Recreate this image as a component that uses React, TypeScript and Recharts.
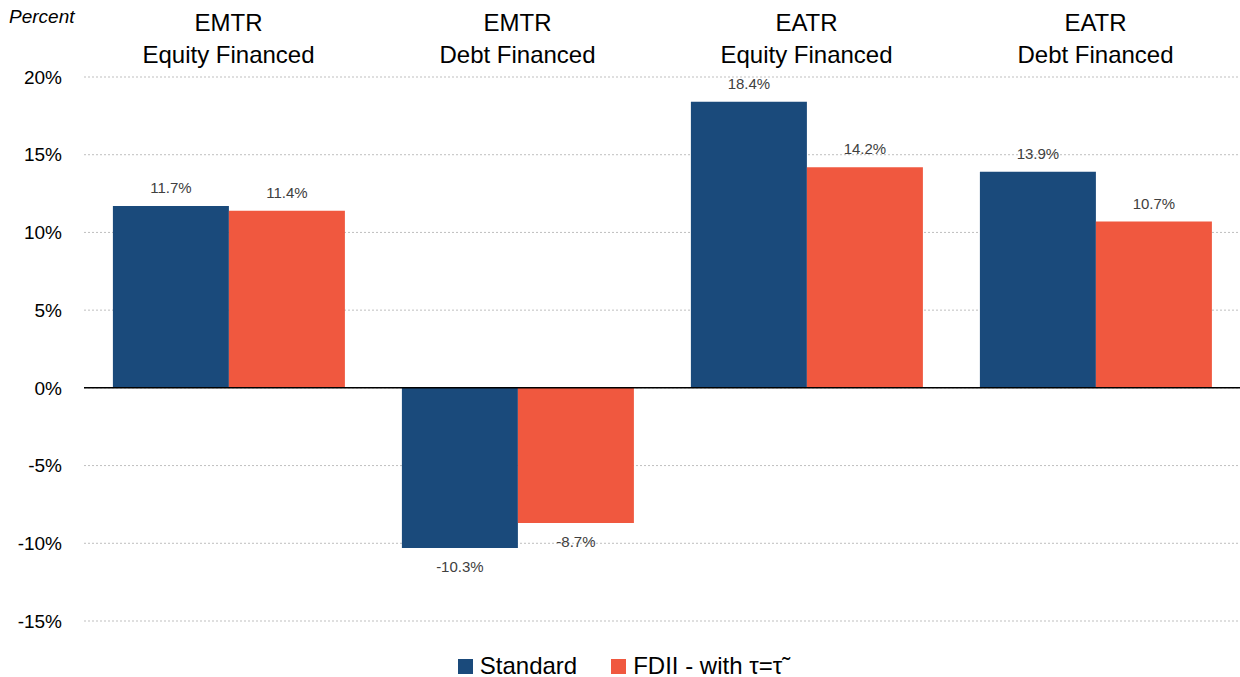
import {
  BarChart,
  Bar,
  XAxis,
  YAxis,
  CartesianGrid,
  ReferenceLine,
  Legend,
  LabelList,
} from 'recharts'

const categories = ['EMTR\nEquity Financed', 'EMTR\nDebt Financed', 'EATR\nEquity Financed', 'EATR\nDebt Financed']
const standard = [11.7, -10.3, 18.4, 13.9]
const fdii = [11.4, -8.7, 14.2, 10.7]
const yTicks = [-15, -10, -5, 0, 5, 10, 15, 20]

const BLUE = '#1A4A7B'
const ORANGE = '#F0583F'
const FONT = 'Arial, "Liberation Sans", sans-serif'

const data = categories.map((name, i) => ({
  name,
  standard: standard[i],
  fdii: fdii[i],
}))

// two-line category header drawn above the plot
// eslint-disable-next-line @typescript-eslint/no-explicit-any
function CategoryTick(props: any) {
  const { x, payload } = props
  const lines = String(payload?.value ?? '').split('\n')
  return (
    <text x={x} y={0} textAnchor="middle" fill="#000" fontSize={24} fontFamily={FONT}>
      {lines.map((line, i) => (
        <tspan key={i} x={x} y={31 + i * 32}>
          {line}
        </tspan>
      ))}
    </text>
  )
}

// eslint-disable-next-line @typescript-eslint/no-explicit-any
function ValueLabel(props: any) {
  const { x, y, width, height, value } = props
  const neg = value < 0
  const bottom = y + height
  const ty = neg ? Math.max(y, bottom) + 24 : Math.min(y, bottom) - 13
  return (
    <text x={x + width / 2} y={ty} textAnchor="middle" fill="#404040" fontSize={15} fontFamily={FONT}>
      {`${value.toFixed(1)}%`}
    </text>
  )
}

function LegendContent() {
  const items = [
    { label: 'Standard', color: BLUE },
    { label: 'FDII - with \u03C4=\u03C4\u0303', color: ORANGE },
  ]
  return (
    <div
      style={{
        display: 'flex',
        justifyContent: 'center',
        gap: 34,
        paddingTop: 31,
        fontFamily: FONT,
        fontSize: 24,
        color: '#000',
      }}
    >
      {items.map((it) => (
        <div key={it.label} style={{ display: 'flex', alignItems: 'center' }}>
          <span style={{ width: 15, height: 15, background: it.color, display: 'inline-block', marginRight: 7 }} />
          <span>{it.label}</span>
        </div>
      ))}
    </div>
  )
}

export default function App() {
  return (
    <div style={{ position: 'relative', width: 1240, height: 677, background: '#fff' }}>
      <style>{'body{margin:0}'}</style>
      <div
        style={{
          position: 'absolute',
          left: 9,
          top: 6,
          fontFamily: FONT,
          fontStyle: 'italic',
          fontSize: 19,
          color: '#000',
        }}
      >
        Percent
      </div>
      <BarChart
        width={1240}
        height={677}
        data={data}
        margin={{ top: 7, right: 0, left: 0, bottom: 0 }}
        barCategoryGap="10%"
        barGap={0}
      >
        <CartesianGrid vertical={false} stroke="#bfbfbf" strokeDasharray="2 2" />
        <XAxis
          dataKey="name"
          orientation="top"
          height={70}
          axisLine={false}
          tickLine={false}
          tick={CategoryTick}
          interval={0}
        />
        <YAxis
          type="number"
          domain={[-15, 20]}
          ticks={yTicks}
          width={84}
          axisLine={false}
          tickLine={false}
          tickMargin={16}
          tickFormatter={(v) => `${v}%`}
          tick={{ fill: '#000', fontSize: 19, fontFamily: FONT }}
        />
        <ReferenceLine y={0} stroke="#000" strokeWidth={1.5} />
        <Legend
          verticalAlign="bottom"
          height={56}
          content={<LegendContent />}
        />
        <Bar dataKey="standard" name="Standard" fill={BLUE} isAnimationActive={false}>
          <LabelList dataKey="standard" content={ValueLabel} />
        </Bar>
        <Bar dataKey="fdii" name="FDII" fill={ORANGE} isAnimationActive={false}>
          <LabelList dataKey="fdii" content={ValueLabel} />
        </Bar>
      </BarChart>
    </div>
  )
}
